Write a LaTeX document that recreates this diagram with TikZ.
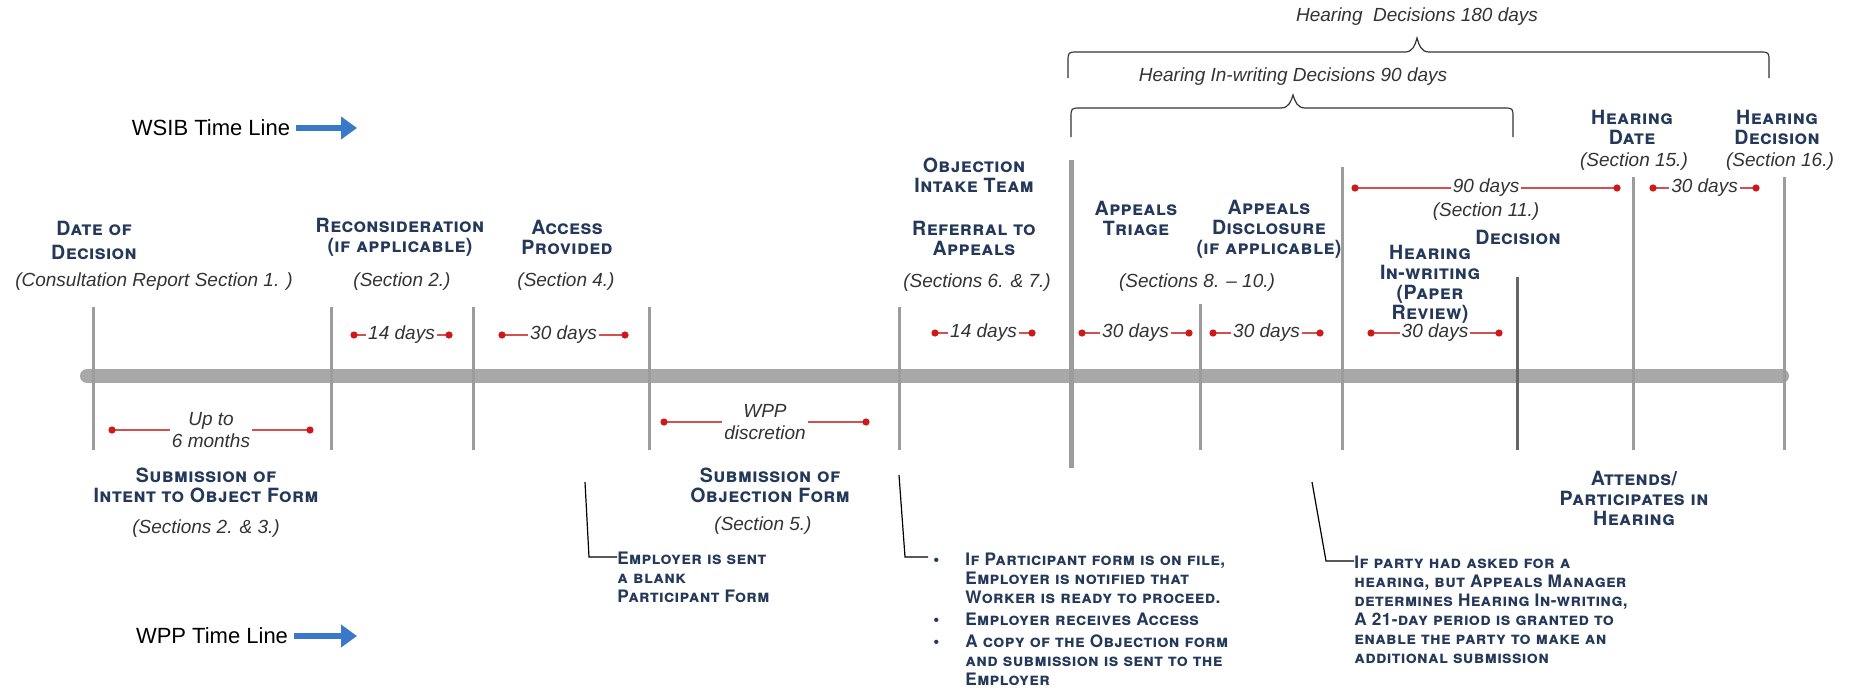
\documentclass[tikz,border=0pt]{standalone}
\usepackage{fontspec}
\setmainfont{Liberation Sans}
\newfontfamily\hfont{TeX Gyre Heros}[LetterSpace=2]
\usetikzlibrary{arrows.meta,calc}
\definecolor{navy}{HTML}{24395A}
\definecolor{dotred}{HTML}{D01818}
\definecolor{linered}{HTML}{D45050}
\definecolor{barg}{HTML}{A8A8A8}
\definecolor{tickg}{HTML}{9C9C9C}
\definecolor{arrowblue}{HTML}{3A78C9}
\begin{document}
\begin{tikzpicture}[x=0.5pt,y=-0.5pt,
  lab/.style={font=\hfont\fontsize{9.8}{10}\selectfont\bfseries\scshape, text=navy, align=center, inner sep=0pt},
  labw/.style={lab, font=\hfont\fontsize{9.8}{12}\selectfont\bfseries\scshape},
  ital/.style={font=\fontsize{9.5}{11}\selectfont\itshape, text=black!80, inner sep=0pt, align=center},
  daytext/.style={ital, fill=white, inner xsep=1pt, inner ysep=0.5pt},
  note/.style={font=\hfont\fontsize{8.6}{9.5}\selectfont\bfseries\scshape, text=navy, align=left, inner sep=0pt},
  tick/.style={draw=tickg, line width=1.5pt},
  redline/.style={draw=linered, line width=0.8pt},
  reddot/.style={fill=dotred},
  brace/.style={draw=black!80, line width=0.6pt},
  conn/.style={draw=black, line width=0.6pt},
  tl/.style={font=\fontsize{11}{12}\selectfont, inner sep=0pt}
]
\useasboundingbox (0,0) rectangle (1856,691);

% main bar
\coordinate (barL) at (87,376);
\coordinate (barR) at (1782,376);
\draw[barg, line width=7pt, line cap=round] (barL) -- (barR);

% ticks
\foreach \n/\x/\ya/\yb in {1/93/307/450, 2/331/307/450, 3/473/307/450, 4/649/307/450,
  5/899/307/450, 7/1200/304/450, 8/1342/167/450, 10/1633/177/450, 11/1784/177/450}{
  \coordinate (t\n a) at (\x,\ya); \coordinate (t\n b) at (\x,\yb);
  \draw[tick] (t\n a) -- (t\n b);
}
\coordinate (t6a) at (1071,160); \coordinate (t6b) at (1071,468);
\draw[tick, line width=2.5pt] (t6a) -- (t6b);
\coordinate (t9a) at (1517,277); \coordinate (t9b) at (1517,450);
\draw[tick, draw=black!60] (t9a) -- (t9b);

% time line titles
\node[tl] (wsib) at (211,128) {WSIB Time Line};
\coordinate (wsibE) at (357,128);
\draw[arrowblue, line width=3pt, -{Triangle[length=8pt,width=11pt]}] ([xshift=3pt]wsib.east) -- (wsibE);
\node[tl] (wpp) at (212,636) {WPP Time Line};
\coordinate (wppE) at (357,636);
\draw[arrowblue, line width=3pt, -{Triangle[length=8pt,width=11pt]}] ([xshift=3pt]wpp.east) -- (wppE);

% braces
\coordinate (ub1) at (1068,78); \coordinate (ub2) at (1769,78);
\draw[brace] (ub1) -- (1068,62) .. controls (1068,52) .. (1078,52) -- (1405,52)
  .. controls (1413,52) and (1415,45) .. (1417,38) .. controls (1419,45) and (1421,52) .. (1429,52)
  -- (1759,52) .. controls (1769,52) .. (1769,62) -- (ub2);
\coordinate (lb1) at (1071,137); \coordinate (lb2) at (1513,137);
\draw[brace] (lb1) -- (1071,118) .. controls (1071,108) .. (1081,108) -- (1281,108)
  .. controls (1289,108) and (1291,101) .. (1293,95) .. controls (1295,101) and (1297,108) .. (1305,108)
  -- (1503,108) .. controls (1513,108) .. (1513,118) -- (lb2);
\node[ital] (h180) at (1417,17) {Hearing\ \ Decisions 180 days};
\node[ital] (h90) at (1293,77) {Hearing In-writing Decisions 90 days};

% intervals
\foreach \n/\xa/\xb/\y/\t in {i1/354/449/335/14 days, i2/502/625/335/30 days,
  i3/935/1032/333/14 days, i4/1082/1189/333/30 days, i5/1213/1320/333/30 days,
  i6/1371/1499/333/30 days, i7/1355/1617/188/90 days, i8/1653/1756/188/30 days,
  i9/112/310/430/{Up to\\6 months}, i10/664/866/422/{WPP\\discretion}}{
  \coordinate (\n a) at (\xa,\y); \coordinate (\n b) at (\xb,\y);
  \draw[redline] (\n a) -- (\n b);
  \node[daytext] (\n t) at ($(\n a)!0.5!(\n b)$) {\t};
  \fill[reddot] (\n a) circle (1.8pt);
  \fill[reddot] (\n b) circle (1.8pt);
}
\node[ital] (sec11) at (1486,212) {(Section 11.)};

% upper labels
\node[labw] (dateof) at (94,240) {Date of\\Decision};
\node[ital] (cons) at (154,282) {(Consultation Report Section 1. )};
\node[lab] (recon) at (400,237) {Reconsideration\\(if applicable)};
\node[ital] (sec2) at (402,282) {(Section 2.)};
\node[lab] (access) at (567,237) {Access\\Provided};
\node[ital] (sec4) at (566,282) {(Section 4.)};
\node[lab] (objint) at (974,175) {Objection\\Intake Team};
\node[lab] (referral) at (974,238) {Referral to\\Appeals};
\node[ital] (sec67) at (977,283) {(Sections 6. \& 7.)};
\node[lab] (triage) at (1136,218) {Appeals\\Triage};
\node[lab] (disclosure) at (1269,229) {Appeals\\Disclosure\\(if applicable)};
\node[ital] (sec810) at (1197,283) {(Sections 8. – 10.)};
\node[lab] (hdate) at (1632,127) {Hearing\\Date};
\node[ital] (sec15) at (1634,162) {(Section 15.)};
\node[lab] (hdec) at (1777,127) {Hearing\\Decision};
\node[ital] (sec16) at (1780,162) {(Section 16.)};
\node[lab] (decision) at (1518,237) {Decision};
\node[lab] (hinw) at (1430,284) {Hearing\\In-writing\\(Paper\\Review)};

% lower labels
\node[lab] (sub1) at (206,485) {Submission of\\Intent to Object Form};
\node[ital] (sec23) at (206,529) {(Sections 2. \& 3.)};
\node[lab] (sub2) at (770,485) {Submission of\\Objection Form};
\node[ital] (sec5) at (763,526) {(Section 5.)};
\node[lab] (attends) at (1634,498) {Attends/\\Participates in\\Hearing};

% notes
\node[note, anchor=west] (note1) at (617,577) {Employer is sent\\a blank\\Participant Form};
\node[note, anchor=west] (note2) at (933,622) {%
  \begin{tabular}{@{}l@{\hspace{13pt}}l@{}}
  \textbullet & If Participant form is on file,\\
  & Employer is notified that\\
  & Worker is ready to proceed.\\[1.5pt]
  \textbullet & Employer receives Access\\[1.5pt]
  \textbullet & A copy of the Objection form\\
  & and submission is sent to the\\
  & Employer
  \end{tabular}};
\node[note, anchor=west] (note3) at (1354,610) {If party had asked for a\\hearing, but Appeals Manager\\determines Hearing In-writing,\\A 21-day period is granted to\\enable the party to make an\\additional submission};

% connectors
\coordinate (c1s) at (585,482); \coordinate (c1k) at (589,557);
\draw[conn] (c1s) -- (c1k) -- (c1k -| note1.west);
\coordinate (c2s) at (899,475); \coordinate (c2k) at (905,557); \coordinate (c2e) at (928,557);
\draw[conn] (c2s) -- (c2k) -- (c2e);
\coordinate (c3s) at (1312,482); \coordinate (c3k) at (1326,561);
\draw[conn] (c3s) -- (c3k) -- (c3k -| note3.west);
\end{tikzpicture}
\end{document}
